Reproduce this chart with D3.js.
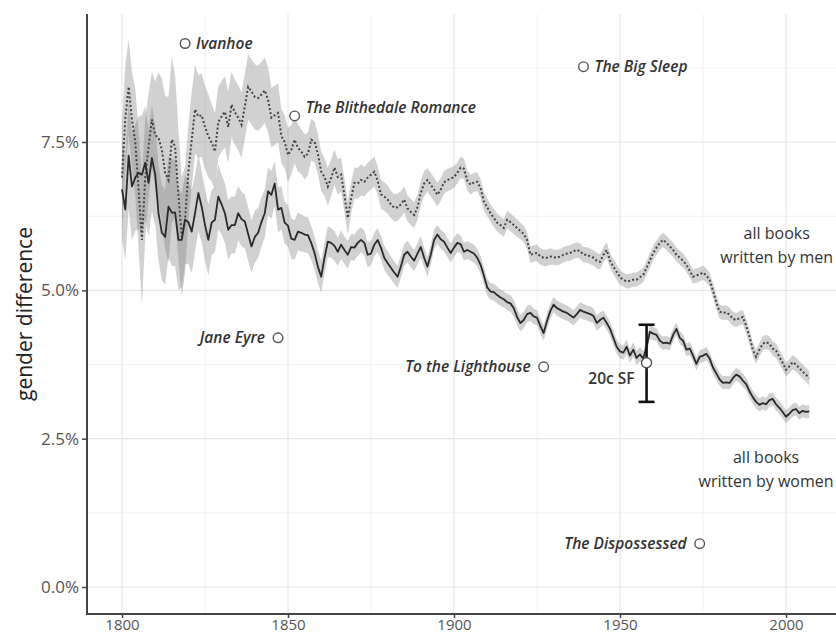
<!DOCTYPE html>
<html><head><meta charset="utf-8">
<script src="https://cdn.jsdelivr.net/npm/d3@7"></script>
<style>
body{margin:0;background:#fff}
svg{display:block;font-family:"Open Sans","Noto Sans",sans-serif}
</style>
</head><body>
<svg id="chart" width="836" height="634"></svg>
<script>
// ---------------- data ----------------
const firstYear = 1800;
const womenMean = [
 6.70,6.36,7.27,6.75,6.90,6.98,6.95,7.15,6.81,7.23,
 6.95,6.30,5.97,5.90,6.41,6.31,6.31,5.85,5.85,6.19,
 6.15,5.99,6.30,6.64,6.41,6.10,5.85,6.14,6.19,6.58,
 6.45,6.30,6.02,6.10,6.10,6.30,6.20,6.16,5.95,5.74,
 5.90,5.97,6.15,6.30,6.67,6.61,6.80,6.36,6.39,6.14,
 6.09,5.87,5.85,5.99,5.97,5.94,5.93,5.80,5.63,5.40,
 5.23,5.55,5.82,5.80,5.75,5.65,5.77,5.68,5.60,5.73,
 5.72,5.80,5.85,5.80,5.60,5.62,5.77,5.85,5.72,5.55,
 5.46,5.38,5.30,5.23,5.40,5.60,5.65,5.57,5.50,5.62,
 5.73,5.55,5.40,5.60,5.85,5.94,5.86,5.82,5.72,5.63,
 5.72,5.80,5.78,5.65,5.68,5.65,5.62,5.55,5.43,5.25,
 5.05,4.98,4.97,4.92,4.88,4.85,4.80,4.78,4.70,4.55,
 4.45,4.50,4.60,4.62,4.56,4.54,4.40,4.28,4.48,4.65,
 4.76,4.70,4.67,4.64,4.62,4.58,4.54,4.60,4.67,4.64,
 4.62,4.60,4.57,4.45,4.50,4.54,4.45,4.35,4.20,4.05,
 3.97,3.95,4.05,3.90,4.00,3.86,3.92,3.85,4.05,4.30,
 4.27,4.25,4.15,4.11,4.12,4.10,4.25,4.35,4.20,4.15,
 4.00,4.02,3.90,3.76,3.88,3.90,3.93,3.85,3.70,3.60,
 3.50,3.44,3.45,3.44,3.52,3.58,3.55,3.48,3.42,3.30,
 3.20,3.12,3.07,3.10,3.08,3.15,3.17,3.08,3.02,2.95,
 2.87,2.92,2.98,3.00,2.93,2.97,2.95,2.96
];
const womenSE = [
 0.85,0.85,0.90,0.90,0.90,0.95,1.00,0.95,0.90,0.90,
 0.85,0.80,0.80,0.80,0.85,0.90,0.90,0.85,0.80,0.75,
 0.70,0.70,0.65,0.65,0.60,0.60,0.60,0.55,0.55,0.55,
 0.50,0.50,0.50,0.48,0.48,0.46,0.46,0.45,0.45,0.44,
 0.44,0.42,0.42,0.40,0.40,0.40,0.38,0.38,0.36,0.36,
 0.35,0.34,0.33,0.32,0.31,0.30,0.30,0.29,0.28,0.28,
 0.27,0.26,0.26,0.25,0.25,0.24,0.24,0.23,0.23,0.22,
 0.22,0.22,0.21,0.21,0.21,0.20,0.20,0.20,0.20,0.20,
 0.20,0.19,0.19,0.19,0.19,0.18,0.18,0.18,0.18,0.18,
 0.18,0.17,0.17,0.17,0.17,0.16,0.16,0.16,0.16,0.16,
 0.16,0.16,0.15,0.15,0.15,0.15,0.15,0.15,0.15,0.15,
 0.14,0.14,0.14,0.14,0.14,0.14,0.14,0.14,0.14,0.14,
 0.14,0.14,0.14,0.14,0.13,0.13,0.13,0.13,0.13,0.13,
 0.13,0.13,0.13,0.13,0.13,0.13,0.13,0.13,0.13,0.13,
 0.13,0.13,0.13,0.13,0.13,0.12,0.12,0.12,0.12,0.12,
 0.12,0.12,0.12,0.12,0.12,0.12,0.12,0.12,0.12,0.12,
 0.11,0.11,0.11,0.11,0.11,0.11,0.11,0.11,0.11,0.11,
 0.11,0.11,0.11,0.11,0.11,0.11,0.11,0.11,0.11,0.11,
 0.11,0.11,0.11,0.11,0.11,0.11,0.11,0.11,0.11,0.11,
 0.11,0.11,0.11,0.11,0.11,0.11,0.11,0.11,0.11,0.11,
 0.11,0.11,0.11,0.11,0.11,0.11,0.11,0.11
];
const menMean = [
 6.90,7.90,8.43,7.88,7.50,6.69,5.85,6.90,7.42,7.88,
 7.62,7.57,7.37,6.98,6.86,7.54,7.42,6.60,5.90,6.20,
 7.00,7.54,8.05,7.93,7.95,7.75,7.60,7.49,7.34,7.84,
 7.93,8.01,7.75,8.13,8.00,7.91,7.79,8.10,8.43,8.35,
 8.26,8.24,8.30,8.37,8.21,7.91,7.95,7.99,7.60,7.50,
 7.28,7.37,7.54,7.40,7.34,7.25,7.30,7.54,7.50,7.30,
 7.00,6.91,6.75,6.90,7.07,6.91,6.95,6.60,6.22,6.55,
 6.81,6.80,6.86,6.83,6.90,6.95,7.00,6.85,6.62,6.58,
 6.53,6.45,6.39,6.40,6.45,6.53,6.38,6.32,6.27,6.40,
 6.64,6.80,6.86,6.78,6.70,6.61,6.70,6.82,6.86,6.88,
 6.91,6.98,7.07,7.05,6.85,6.78,6.82,6.83,6.72,6.50,
 6.40,6.30,6.22,6.14,6.10,6.05,6.19,6.15,6.10,6.05,
 6.00,5.95,5.85,5.60,5.62,5.63,5.57,5.55,5.55,5.57,
 5.56,5.55,5.57,5.60,5.62,5.63,5.66,5.68,5.66,5.60,
 5.60,5.57,5.55,5.50,5.48,5.60,5.68,5.50,5.40,5.31,
 5.22,5.18,5.15,5.16,5.18,5.18,5.22,5.26,5.38,5.50,
 5.63,5.72,5.80,5.85,5.80,5.74,5.68,5.60,5.55,5.50,
 5.43,5.33,5.23,5.25,5.27,5.30,5.25,5.18,5.00,4.80,
 4.64,4.62,4.63,4.59,4.52,4.50,4.53,4.55,4.40,4.22,
 4.00,3.88,4.00,4.10,4.13,4.10,4.02,3.98,3.88,3.78,
 3.66,3.72,3.79,3.75,3.69,3.63,3.58,3.52
];
const menSE = [
 0.90,0.90,0.80,0.80,0.90,1.00,1.10,1.00,0.90,0.80,
 0.90,1.10,1.20,1.30,1.40,1.40,1.20,1.10,1.00,0.90,
 0.80,0.80,0.75,0.70,0.70,0.70,0.70,0.65,0.65,0.60,
 0.60,0.60,0.60,0.55,0.55,0.55,0.55,0.55,0.55,0.55,
 0.55,0.55,0.55,0.55,0.55,0.50,0.50,0.50,0.45,0.45,
 0.45,0.42,0.40,0.40,0.38,0.38,0.36,0.35,0.35,0.34,
 0.33,0.32,0.32,0.31,0.30,0.30,0.29,0.28,0.28,0.27,
 0.26,0.26,0.26,0.25,0.25,0.25,0.25,0.24,0.24,0.24,
 0.24,0.23,0.23,0.23,0.22,0.22,0.22,0.22,0.22,0.21,
 0.21,0.21,0.20,0.20,0.20,0.20,0.19,0.19,0.19,0.19,
 0.18,0.18,0.18,0.17,0.17,0.17,0.16,0.16,0.16,0.16,
 0.15,0.15,0.15,0.15,0.15,0.15,0.15,0.15,0.15,0.15,
 0.14,0.14,0.14,0.14,0.14,0.14,0.14,0.14,0.14,0.14,
 0.13,0.13,0.13,0.13,0.13,0.13,0.13,0.13,0.13,0.13,
 0.13,0.13,0.13,0.13,0.13,0.13,0.13,0.13,0.13,0.13,
 0.12,0.12,0.12,0.12,0.12,0.12,0.12,0.12,0.12,0.12,
 0.12,0.12,0.12,0.12,0.12,0.12,0.12,0.12,0.12,0.12,
 0.12,0.12,0.12,0.12,0.12,0.12,0.12,0.12,0.12,0.12,
 0.12,0.12,0.12,0.12,0.12,0.12,0.12,0.12,0.12,0.12,
 0.12,0.12,0.12,0.12,0.12,0.12,0.12,0.12,0.12,0.12,
 0.12,0.12,0.12,0.12,0.12,0.12,0.12,0.12
];
const xTickValues = [1800, 1850, 1900, 1950, 2000];
const xMinorValues = [1825, 1875, 1925, 1975, 2025];
const yTickValues = [0, 2.5, 5, 7.5];
const yMinorValues = [1.25, 3.75, 6.25, 8.75];
const bookTitles = ["Ivanhoe", "The Blithedale Romance", "The Big Sleep", "Jane Eyre", "To the Lighthouse", "The Dispossessed"];
const bookYears  = [1819, 1852, 1939, 1847, 1927, 1974];
const bookValues = [9.16, 7.94, 8.77, 4.20, 3.71, 0.73];
const sfLabel = "20c SF";
const sfYear = 1958, sfValue = 3.78, sfLow = 3.12, sfHigh = 4.42;
const menLabel = ["all books", "written by men"];
const womenLabel = ["all books", "written by women"];
const yTitle = "gender difference";

// ---------------- layout ----------------
const pLeft = 87, pTop = 14, pBottom = 614, pRight = 836;
const svg = d3.select("#chart");

const x = d3.scaleLinear().domain([1800, 2000]).range([122, 786]);
const y = d3.scaleLinear().domain([0, 7.5]).range([587, 142]);

const years = womenMean.map((d, i) => firstYear + i);
const women = years.map((yr, i) => ({year: yr, v: womenMean[i], se: womenSE[i]}));
const men = years.map((yr, i) => ({year: yr, v: menMean[i], se: menSE[i]}));

// grid
const grid = svg.append("g");
grid.selectAll(".hmin").data(yMinorValues).join("line")
  .attr("x1", pLeft).attr("x2", pRight).attr("y1", d => y(d)).attr("y2", d => y(d))
  .attr("stroke", "#f2f2f2").attr("stroke-width", 1);
grid.selectAll(".vmin").data(xMinorValues).join("line")
  .attr("y1", pTop).attr("y2", pBottom).attr("x1", d => x(d)).attr("x2", d => x(d))
  .attr("stroke", "#f2f2f2").attr("stroke-width", 1);
grid.selectAll(".hmaj").data(yTickValues).join("line")
  .attr("x1", pLeft).attr("x2", pRight).attr("y1", d => y(d)).attr("y2", d => y(d))
  .attr("stroke", "#e6e6e6").attr("stroke-width", 1.2);
grid.selectAll(".vmaj").data(xTickValues).join("line")
  .attr("y1", pTop).attr("y2", pBottom).attr("x1", d => x(d)).attr("x2", d => x(d))
  .attr("stroke", "#e6e6e6").attr("stroke-width", 1.2);

// bands
const area = d3.area().x(d => x(d.year)).y0(d => y(d.v - d.se)).y1(d => y(d.v + d.se));
svg.append("path").datum(men).attr("d", area).attr("fill", "#808080").attr("fill-opacity", 0.36);
svg.append("path").datum(women).attr("d", area).attr("fill", "#808080").attr("fill-opacity", 0.36);

// lines
const line = d3.line().x(d => x(d.year)).y(d => y(d.v));
svg.append("path").datum(men).attr("d", line).attr("fill", "none")
  .attr("stroke", "#444").attr("stroke-width", 2).attr("stroke-dasharray", "2,2.2");
svg.append("path").datum(women).attr("d", line).attr("fill", "none")
  .attr("stroke", "#2a2a2a").attr("stroke-width", 1.8).attr("stroke-linejoin", "round");

// axes
const yAxis = d3.axisLeft(y).tickValues(yTickValues).tickFormat(d => d.toFixed(1) + "%")
  .tickSize(5).tickPadding(3);
const gy = svg.append("g").attr("transform", `translate(${pLeft},0)`).call(yAxis);
gy.select(".domain").remove();
gy.selectAll(".tick line").attr("stroke", "#444").attr("stroke-width", 1.5);
gy.selectAll(".tick text").attr("fill", "#555").style("font-size", "17px").style("font-family", "'Open Sans',sans-serif");

const xAxis = d3.axisBottom(x).tickValues(xTickValues).tickFormat(d3.format("d"))
  .tickSize(4).tickPadding(1);
const gx = svg.append("g").attr("transform", `translate(0,${pBottom})`).call(xAxis);
gx.select(".domain").remove();
gx.selectAll(".tick line").attr("stroke", "#444").attr("stroke-width", 1.5);
gx.selectAll(".tick text").attr("fill", "#555").style("font-size", "15px").style("font-family", "'Open Sans',sans-serif");

svg.append("line").attr("x1", pLeft).attr("x2", pLeft).attr("y1", pTop).attr("y2", pBottom + 1)
  .attr("stroke", "#444").attr("stroke-width", 2);
svg.append("line").attr("x1", pLeft - 1).attr("x2", pRight).attr("y1", pBottom).attr("y2", pBottom)
  .attr("stroke", "#444").attr("stroke-width", 2);

// y title
svg.append("text").attr("transform", `translate(32,314) rotate(-90)`)
  .attr("text-anchor", "middle").attr("fill", "#222").style("font-size", "21px")
  .text(yTitle);

// book annotations
const books = bookTitles.map((t, i) => ({title: t, year: bookYears[i], value: bookValues[i]}));
const rightSide = new Set(["Ivanhoe", "The Blithedale Romance", "The Big Sleep"]);
const bg = svg.append("g");
bg.selectAll("circle").data(books).join("circle")
  .attr("cx", d => x(d.year)).attr("cy", d => y(d.value)).attr("r", 4.8)
  .attr("fill", "#fff").attr("stroke", "#555").attr("stroke-width", 1.4);
bg.selectAll("text").data(books).join("text")
  .attr("x", d => rightSide.has(d.title) ? x(d.year) + 11 : x(d.year) - 13)
  .attr("y", d => y(d.value) + (d.title === "The Blithedale Romance" ? -8 : 0))
  .attr("dy", "0.35em")
  .attr("text-anchor", d => rightSide.has(d.title) ? "start" : "end")
  .attr("fill", "#333").style("font-size", "15.5px").style("font-style", "italic").style("font-weight", 600)
  .text(d => d.title);

// 20c SF error bar
const sfg = svg.append("g");
const sx = x(sfYear);
sfg.append("line").attr("x1", sx).attr("x2", sx).attr("y1", y(sfHigh)).attr("y2", y(sfLow))
  .attr("stroke", "#111").attr("stroke-width", 2.6);
[sfHigh, sfLow].forEach(v => sfg.append("line").attr("x1", sx - 8).attr("x2", sx + 8)
  .attr("y1", y(v)).attr("y2", y(v)).attr("stroke", "#111").attr("stroke-width", 2.6));
sfg.append("circle").attr("cx", sx).attr("cy", y(sfValue)).attr("r", 5)
  .attr("fill", "#fff").attr("stroke", "#555").attr("stroke-width", 1.4);
sfg.append("text").attr("x", sx - 12).attr("y", y(sfValue) + 16).attr("dy", "0.35em")
  .attr("text-anchor", "end").attr("fill", "#333").style("font-size", "15.5px").style("font-weight", 600)
  .text(sfLabel);

// series labels
function seriesLabel(lines, year, value) {
  const t = svg.append("text").attr("text-anchor", "middle").attr("fill", "#333")
    .style("font-size", "16px");
  lines.forEach((s, i) => t.append("tspan").attr("x", x(year)).attr("y", y(value) + (i - 0.5) * 24)
    .attr("dy", "0.35em").text(s));
}
seriesLabel(menLabel, 1997.2, 5.76);
seriesLabel(womenLabel, 1994.0, 1.99);
</script>
</body></html>
